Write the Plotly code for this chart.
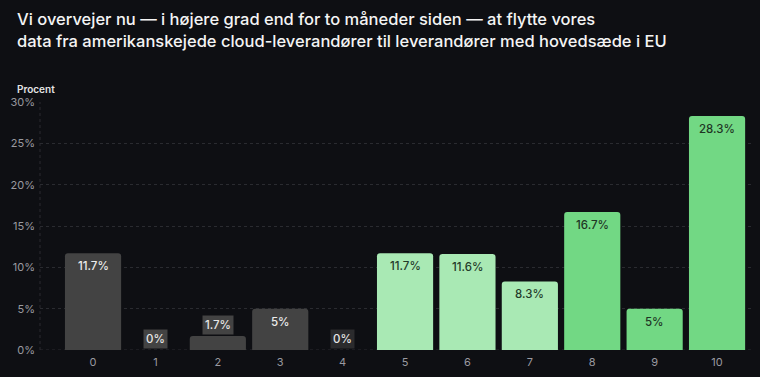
import plotly.graph_objects as go

categories = ["0", "1", "2", "3", "4", "5", "6", "7", "8", "9", "10"]
values = [11.7, 0, 1.7, 5, 0, 11.7, 11.6, 8.3, 16.7, 5, 28.3]
labels = ["11.7%", "0%", "1.7%", "5%", "0%", "11.7%", "11.6%", "8.3%", "16.7%", "5%", "28.3%"]
bar_colors = ["#434343", "#434343", "#434343", "#434343", "#2b2b2d",
              "#a9e9b4", "#a9e9b4", "#a9e9b4", "#72d884", "#72d884", "#72d884"]
text_colors = ["#ececec", "#ececec", "#ececec", "#ececec", "#ececec",
               "#243a29", "#243a29", "#243a29", "#1f3524", "#1f3524", "#1f3524"]
yticks = [0, 5, 10, 15, 20, 25, 30]
ytick_text = ["0%", "5%", "10%", "15%", "20%", "25%", "30%"]
title_lines = ["Vi overvejer nu — i højere grad end for to måneder siden — at flytte vores",
               "data fra amerikanskejede cloud-leverandører til leverandører med hovedsæde i EU"]

BG = "#0e0f13"
FONT = "Inter, Noto Sans, sans-serif"
W, H = 760, 377
ML, MR, MT, MB = 40, 8, 102, 27
PW, PH = W - ML - MR, H - MT - MB


def px_x(px):
    return (px - ML) / PW


def px_y(py):
    return 1 + (MT - py) / PH


fig = go.Figure()
fig.add_trace(go.Bar(
    x=list(range(len(categories))), y=values,
    marker=dict(color=bar_colors, cornerradius=3, line=dict(width=0)),
    width=0.9, hoverinfo="skip",
))

annotations = []
for i, (v, lab) in enumerate(zip(values, labels)):
    if v >= 3:
        annotations.append(dict(
            x=i, y=v, xref="x", yref="y", text=lab, showarrow=False,
            yshift=-13, font=dict(family=FONT, size=11.5, color=text_colors[i], weight=500),
        ))
    else:
        annotations.append(dict(
            x=i, y=v, xref="x", yref="y", text=lab, showarrow=False,
            yshift=11, font=dict(family=FONT, size=11.5, color="#e6e6e6", weight=500),
            bgcolor=bar_colors[i], borderpad=2,
        ))

for k, line in enumerate(title_lines):
    annotations.append(dict(
        x=px_x(15), y=px_y(19 + 22 * k), xref="paper", yref="paper",
        text=line, showarrow=False, xanchor="left", yanchor="middle",
        font=dict(family=FONT, size=16.5, color="#f4f4f4", weight=500),
    ))

annotations.append(dict(
    x=px_x(15), y=px_y(89), xref="paper", yref="paper",
    text="Procent", showarrow=False,
    xanchor="left", yanchor="middle",
    font=dict(family=FONT, size=10, color="#e4e4e4", weight=600),
))

fig.update_layout(
    width=W, height=H,
    paper_bgcolor=BG, plot_bgcolor=BG,
    margin=dict(l=ML, r=MR, t=MT, b=MB),
    showlegend=False,
    xaxis=dict(
        range=[-0.85, 10.56], tickmode="array",
        tickvals=list(range(len(categories))), ticktext=categories,
        showgrid=False, zeroline=False, showline=False,
        tickfont=dict(family=FONT, size=11, color="#9a9aa0"),
        ticks="", ticklabelstandoff=4,
    ),
    yaxis=dict(
        range=[0, 30], tickmode="array", tickvals=yticks, ticktext=ytick_text,
        showgrid=True, gridcolor="#2a2b30", griddash="dot", gridwidth=1,
        zeroline=False, showline=False,
        tickfont=dict(family=FONT, size=11, color="#9a9aa0"),
        ticks="", ticklabelstandoff=4,
    ),
    annotations=annotations,
)
fig.add_shape(type="line", xref="paper", yref="paper", x0=0, x1=0, y0=0, y1=1,
              line=dict(color="#2a2b30", width=1, dash="dot"), layer="below")
fig.add_shape(type="line", xref="paper", yref="y", x0=0, x1=1, y0=0, y1=0,
              line=dict(color="#2a2b30", width=1, dash="dot"), layer="below")

fig.write_html(
    "out.html",
    config={"displayModeBar": False},
    post_script="document.body.style.margin='0';document.body.style.overflow='hidden';",
)
